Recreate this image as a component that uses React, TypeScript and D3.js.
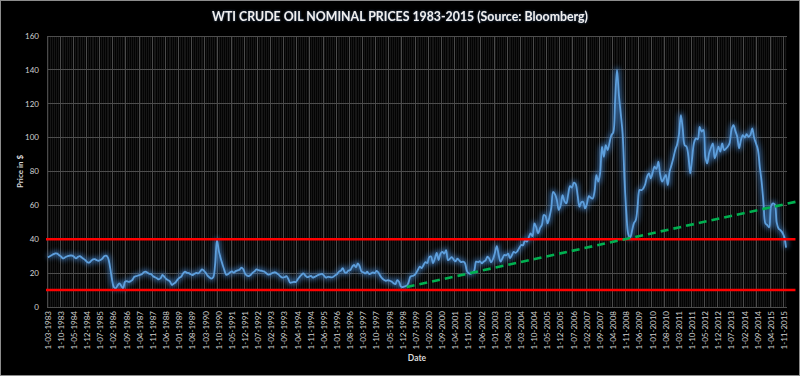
import React, { useEffect } from "react";
import * as d3 from "d3";

// ---------- DATA ----------
const START_YEAR = 1983;
const START_MONTH = 3; // first category: 1-03-1983

const p1983 = [29.3, 30.0, 30.6, 31.2, 31.7, 31.5, 30.6, 29.8, 28.7, 29.2];
const p1984 = [29.8, 30.2, 30.4, 30.3, 29.5, 28.7, 29.6, 30.0, 29.2, 28.4, 27.5, 26.4];
const p1985 = [26.2, 27.2, 28.1, 28.3, 27.6, 27.3, 27.8, 28.6, 30.0, 30.3, 29.0, 24.0];
const p1986 = [17.0, 12.0, 11.0, 12.5, 14.0, 12.5, 11.0, 14.8, 15.3, 14.8, 15.2, 16.0];
const p1987 = [17.9, 18.2, 18.6, 19.0, 19.4, 20.5, 20.9, 20.2, 19.6, 19.4, 18.2, 17.6];
const p1988 = [17.0, 16.3, 17.0, 18.9, 17.8, 16.5, 15.8, 15.0, 13.0, 13.8, 14.6, 16.2];
const p1989 = [17.3, 18.0, 19.9, 20.8, 20.2, 20.0, 19.3, 18.9, 19.6, 20.2, 19.8, 20.9];
const p1990 = [22.2, 21.5, 20.2, 18.5, 17.5, 16.8, 17.5, 25.0, 39.5, 33.0, 28.7, 25.0];
const p1991 = [21.5, 19.0, 19.5, 20.5, 21.0, 20.3, 21.2, 21.6, 22.0, 23.2, 22.3, 19.6];
const p1992 = [18.5, 18.3, 19.0, 20.2, 21.0, 22.2, 21.8, 21.5, 21.3, 21.0, 20.2, 19.3];
const p1993 = [19.2, 19.8, 20.3, 20.5, 19.8, 19.0, 17.8, 17.3, 17.6, 18.2, 16.5, 14.3];
const p1994 = [14.6, 14.8, 14.8, 16.4, 17.8, 19.0, 19.9, 18.6, 17.7, 17.9, 18.4, 17.4];
const p1995 = [17.8, 18.4, 19.0, 19.3, 19.5, 18.5, 17.3, 17.8, 17.7, 17.5, 17.9, 18.8];
const p1996 = [19.5, 20.9, 21.5, 23.0, 20.5, 20.3, 21.5, 21.8, 23.8, 24.8, 23.5, 25.8];
const p1997 = [24.0, 20.9, 20.5, 19.8, 20.8, 19.5, 19.8, 20.5, 20.0, 21.3, 20.2, 18.3];
const p1998 = [16.9, 16.0, 15.5, 15.8, 15.5, 15.0, 14.0, 13.5, 15.9, 14.8, 12.0, 11.8];
const p1999 = [12.2, 12.5, 14.5, 17.9, 18.3, 18.7, 20.0, 22.0, 23.8, 23.0, 24.8, 26.5];
const p2000 = [26.0, 29.5, 29.8, 25.8, 28.5, 32.0, 27.7, 31.5, 32.5, 31.5, 33.6, 27.7];
const p2001 = [28.5, 29.5, 28.0, 27.0, 28.5, 27.5, 26.5, 26.8, 26.0, 21.5, 19.9, 19.6];
const p2002 = [20.2, 21.5, 26.8, 26.5, 27.0, 25.8, 26.8, 27.5, 29.7, 28.5, 26.3, 28.5];
const p2003 = [32.0, 36.0, 30.5, 26.8, 28.8, 30.7, 30.5, 31.5, 28.9, 30.5, 32.5, 32.0];
const p2004 = [33.0, 35.0, 36.6, 36.5, 39.5, 38.6, 41.0, 43.5, 41.8, 49.4, 47.0, 43.5];
const p2005 = [46.5, 48.5, 54.3, 53.5, 49.4, 53.0, 58.5, 68.0, 66.5, 63.0, 57.3, 60.0];
const p2006 = [66.1, 62.5, 61.2, 66.5, 71.4, 70.5, 73.4, 72.5, 66.0, 59.2, 61.9, 62.0];
const p2007 = [58.2, 61.0, 65.5, 64.5, 64.0, 68.0, 77.9, 74.0, 79.0, 94.5, 88.7, 95.6];
const p2008 = [92.7, 97.0, 101.5, 103.0, 122.0, 140.0, 125.0, 114.0, 102.0, 75.0, 55.0, 43.0];
const p2009 = [41.0, 45.0, 49.5, 51.4, 60.0, 69.1, 69.0, 70.0, 72.5, 77.0, 78.9, 76.0];
const p2010 = [79.5, 82.8, 81.5, 85.8, 78.0, 74.0, 76.0, 78.0, 72.0, 79.9, 83.8, 88.0];
const p2011 = [92.7, 96.0, 102.0, 113.3, 105.0, 95.6, 94.7, 89.0, 78.9, 88.0, 97.0, 99.6];
const p2012 = [99.0, 106.4, 103.5, 104.5, 88.7, 84.8, 90.7, 94.0, 96.6, 87.8, 91.0, 94.7];
const p2013 = [91.7, 96.6, 92.7, 93.5, 94.7, 97.0, 105.0, 107.4, 104.0, 100.5, 93.7, 98.6];
const p2014 = [101.5, 100.0, 102.0, 100.5, 101.5, 105.5, 100.0, 96.5, 93.0, 82.8, 73.8, 61.2];
const p2015 = [49.4, 48.4, 47.0, 59.5, 61.2, 60.5, 50.0, 46.4, 45.4, 44.0, 41.5, 35.0];

const prices: number[] = [
  ...p1983, ...p1984, ...p1985, ...p1986, ...p1987, ...p1988, ...p1989, ...p1990,
  ...p1991, ...p1992, ...p1993, ...p1994, ...p1995, ...p1996, ...p1997, ...p1998,
  ...p1999, ...p2000, ...p2001, ...p2002, ...p2003, ...p2004, ...p2005, ...p2006,
  ...p2007, ...p2008, ...p2009, ...p2010, ...p2011, ...p2012, ...p2013, ...p2014, ...p2015,
];

const yTicks = [0, 20, 40, 60, 80, 100, 120, 140, 160];
const LABEL_EVERY = 7;

// reference levels (red) and trend (green dashed)
const refLevels = [40, 10];
const refLineEnd = "2016-05";
const trendDates = ["1999-02", "2016-08"];
const trendValues = [11.8, 62.8];

const TITLE = "WTI CRUDE OIL NOMINAL PRICES 1983-2015 (Source: Bloomberg)";
const Y_TITLE = "Price in $";
const X_TITLE = "Date";

// ---------- helpers ----------
const categories = prices.map((_, i) => {
  const t = START_MONTH - 1 + i;
  return { y: START_YEAR + Math.floor(t / 12), m: (t % 12) + 1 };
});
const catLabel = (c: { y: number; m: number }) => `1-${String(c.m).padStart(2, "0")}-${c.y}`;
const monthIndex = (key: string) => {
  const [yy, mm] = key.split("-").map(Number);
  return (yy - START_YEAR) * 12 + (mm - START_MONTH);
};

const W = 800, H = 376;
const M = { left: 47, right: 13, top: 36, bottom: 69 };
const plotL = M.left, plotR = W - M.right, plotT = M.top, plotB = H - M.bottom;
const FONT = "Lato, 'Open Sans', 'DejaVu Sans', sans-serif";

export default function App() {
  useEffect(() => {
    document.body.style.margin = "0";
    document.body.style.background = "#000";
  }, []);

  const N = prices.length;
  const xLin = d3.scaleLinear().domain([0, N]).range([plotL, plotR]);
  const xc = (i: number) => xLin(i + 0.5);
  const y = d3.scaleLinear().domain([0, 160]).range([plotB, plotT]);

  const line = d3
    .line<number>()
    .x((_, i) => xc(i))
    .y((d) => y(d))
    .curve(d3.curveCatmullRom.alpha(0.5));
  const pathD = line(prices) || "";

  const trendLine = d3
    .line<number>()
    .x((_, i) => xc(monthIndex(trendDates[i])))
    .y((d) => y(d));
  const trendD = trendLine(trendValues) || "";

  const minorX = d3.range(1, N);
  const majorX = d3.range(0, N + 1, LABEL_EVERY);

  return (
    <svg
      width={W}
      height={H}
      style={{ position: "absolute", left: 0, top: 0, background: "#000" }}
      fontFamily={FONT}
    >
      <defs>
        <filter id="lineGlow" filterUnits="userSpaceOnUse" x={0} y={0} width={W} height={H}>
          <feGaussianBlur stdDeviation="2.4" />
        </filter>
        <filter id="textGlow" x="-10%" y="-60%" width="120%" height="220%">
          <feGaussianBlur in="SourceAlpha" stdDeviation="1.2" result="b" />
          <feFlood floodColor="#5b8fd0" floodOpacity="0.55" />
          <feComposite in2="b" operator="in" result="g" />
          <feMerge>
            <feMergeNode in="g" />
            <feMergeNode in="SourceGraphic" />
          </feMerge>
        </filter>
        <clipPath id="svgClip">
          <rect x={0} y={0} width={W} height={H} />
        </clipPath>
      </defs>

      <rect x={0.5} y={0.5} width={W - 1} height={H - 1} fill="#000" stroke="#8c8c8c" />
      <rect x={plotL} y={plotT} width={plotR - plotL} height={plotB - plotT} fill="#030303" />

      {/* minor vertical gridlines */}
      <g stroke="#161616" strokeWidth={1} shapeRendering="crispEdges">
        {minorX.map((k) => (
          <line key={k} x1={xLin(k)} x2={xLin(k)} y1={plotT} y2={plotB} />
        ))}
      </g>
      {/* major vertical gridlines */}
      <g stroke="#4a4a4a" strokeWidth={1} shapeRendering="crispEdges">
        {majorX.map((k) => (
          <line key={k} x1={xLin(k)} x2={xLin(k)} y1={plotT} y2={plotB} />
        ))}
      </g>
      {/* horizontal gridlines */}
      <g stroke="#4d4d4d" strokeWidth={1} shapeRendering="crispEdges">
        {yTicks.map((t) => (
          <line key={t} x1={plotL} x2={plotR} y1={y(t)} y2={y(t)} />
        ))}
      </g>

      {/* y tick labels */}
      <g fill="#d0d0d0" fontSize={8} textAnchor="end">
        {yTicks.map((t) => (
          <text key={t} x={plotL - 8} y={y(t)} dy="0.35em">
            {t}
          </text>
        ))}
      </g>
      <text
        transform={`translate(20,${(plotT + plotB) / 2}) rotate(-90)`}
        textAnchor="middle"
        fill="#d9d9d9"
        fontSize={8}
        fontWeight="bold"
        dy="0.35em"
      >
        {Y_TITLE}
      </text>

      {/* x tick labels */}
      <g fill="#d0d0d0" fontSize={8} textAnchor="end">
        {categories.map((c, i) =>
          i % LABEL_EVERY === 0 ? (
            <text
              key={i}
              transform={`translate(${xc(i)},${plotB + 4}) rotate(-90)`}
              dy="0.35em"
            >
              {catLabel(c)}
            </text>
          ) : null
        )}
      </g>
      <text
        x={(plotL + plotR) / 2}
        y={361}
        textAnchor="middle"
        fill="#d9d9d9"
        fontSize={8.5}
        fontWeight="bold"
      >
        {X_TITLE}
      </text>

      {/* price line with glow */}
      <path d={pathD} fill="none" stroke="#3f7fc4" strokeWidth={5} opacity={0.7} filter="url(#lineGlow)" />
      <path d={pathD} fill="none" stroke="#5e9fdc" strokeWidth={1.8} strokeLinejoin="round" />

      {/* red reference lines */}
      <g stroke="#ff0000" strokeWidth={2.6}>
        {refLevels.map((v) => (
          <line key={v} x1={xLin(0) - 1} x2={xc(monthIndex(refLineEnd))} y1={y(v)} y2={y(v)} />
        ))}
      </g>

      {/* green dashed trend */}
      <path
        d={trendD}
        fill="none"
        stroke="#00b050"
        strokeWidth={2.6}
        strokeDasharray="8,5"
        clipPath="url(#svgClip)"
      />

      {/* title */}
      <text
        x={W / 2}
        y={21}
        textAnchor="middle"
        fill="#f0f0f0"
        fontSize={12.5}
        fontWeight="bold"
        textLength={376}
        lengthAdjust="spacingAndGlyphs"
        filter="url(#textGlow)"
      >
        {TITLE}
      </text>
    </svg>
  );
}
